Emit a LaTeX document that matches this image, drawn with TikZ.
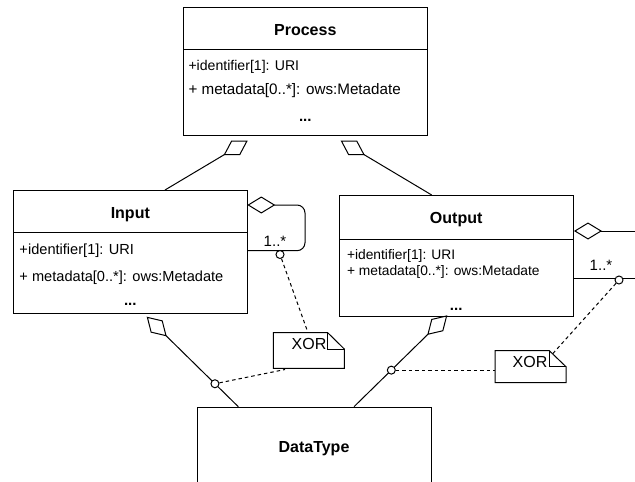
\documentclass[tikz,border=0pt]{standalone}
\usepackage{fontspec}
\setmainfont{Liberation Sans}
\usetikzlibrary{arrows.meta,calc}
\tikzset{
  umlbox/.style={draw, line width=1pt, inner sep=0pt, anchor=north west},
  ttl/.style={font=\fontsize{16}{19}\selectfont\bfseries, anchor=base, inner sep=0pt},
  attr/.style={anchor=base west, inner sep=0pt},
  dots/.style={anchor=base, inner sep=0pt, font=\fontsize{15}{18}\selectfont\bfseries},
  agg/.style={{Diamond[open,length=28pt,width=17pt,line width=1pt]}-},
  circ/.style={draw, circle, fill=white, inner sep=0pt, minimum size=8pt, line width=1pt},
  dsh/.style={line width=1pt, dash pattern=on 3.5pt off 3pt},
  notebox/.style={draw=none, inner sep=0pt, anchor=north west},
  mult/.style={anchor=base, inner sep=0pt, font=\fontsize{15}{18}\selectfont},
  xortxt/.style={anchor=base, inner sep=0pt, font=\fontsize{16}{19}\selectfont},
}
\begin{document}
\begin{tikzpicture}[x=1pt,y=-1pt,line width=1pt]
\useasboundingbox (0,0) rectangle (635,482);

% ---------- Process ----------
\node[umlbox, minimum width=244pt, minimum height=127.7pt] (process) at (183.3,7.3) {};
\draw ($(process.north west)+(0,42)$) -- ($(process.north east)+(0,42)$);
\node[ttl] (ptitle) at (305.3,35.8) {Process};
\node[attr, font=\fontsize{14.1}{17}\selectfont] (pa1) at (188,70.8) {+identifier[1]: URI};
\node[attr, font=\fontsize{15.2}{18}\selectfont] (pa2) at (188,94.8) {+ metadata[0..*]: ows:Metadate};
\node[dots] (pd) at (305.3,121.5) {...};

% ---------- Input ----------
\node[umlbox, minimum width=234pt, minimum height=123.3pt] (input) at (13.3,190) {};
\draw ($(input.north west)+(0,42)$) -- ($(input.north east)+(0,42)$);
\node[ttl] (ititle) at (130.3,218) {Input};
\node[attr, font=\fontsize{14.6}{17}\selectfont] (ia1) at (19,254.3) {+identifier[1]: URI};
\node[attr, font=\fontsize{14.6}{17}\selectfont] (ia2) at (19,281.3) {+ metadata[0..*]: ows:Metadate};
\node[dots] (id) at (130.3,305) {...};

% ---------- Output ----------
\node[umlbox, minimum width=234.3pt, minimum height=120.7pt] (output) at (339,195) {};
\draw ($(output.north west)+(0,44.3)$) -- ($(output.north east)+(0,44.3)$);
\node[ttl] (otitle) at (456.2,223.8) {Output};
\node[attr, font=\fontsize{13.8}{16}\selectfont] (oa1) at (346.5,259.3) {+identifier[1]: URI};
\node[attr, font=\fontsize{13.8}{16}\selectfont] (oa2) at (346.5,275.7) {+ metadata[0..*]: ows:Metadate};
\node[dots] (od) at (456.2,310) {...};

% ---------- DataType ----------
\node[umlbox, minimum width=233.4pt, minimum height=110pt] (datatype) at (197.3,406.7) {};
\node[ttl] (dtitle) at (314,452.4) {DataType};

% ---------- Notes ----------
\node[notebox, minimum width=70pt, minimum height=34.6pt] (note1) at (273.3,332.7) {};
\draw (note1.north west) -- ([xshift=-16.6pt]note1.north east) -- ([yshift=-16.3pt]note1.north east)
      -- (note1.south east) -- (note1.south west) -- cycle;
\draw ([xshift=-16.6pt]note1.north east) -- ([xshift=-16.6pt,yshift=-16.3pt]note1.north east)
      -- ([yshift=-16.3pt]note1.north east);
\node[xortxt] (xor1) at (309,349.8) {XOR};

\node[notebox, minimum width=70pt, minimum height=31pt] (note2) at (495,350.7) {};
\draw (note2.north west) -- ([xshift=-16.7pt]note2.north east) -- ([yshift=-16pt]note2.north east)
      -- (note2.south east) -- (note2.south west) -- cycle;
\draw ([xshift=-16.7pt]note2.north east) -- ([xshift=-16.7pt,yshift=-16pt]note2.north east)
      -- ([yshift=-16pt]note2.north east);
\node[xortxt] (xor2) at (530,367.8) {XOR};

% ---------- anchor coordinates ----------
\coordinate (pL) at (247.7,140.7);
\coordinate (iT) at (165,190);
\coordinate (pR) at (340.7,140.7);
\coordinate (oT) at (431.7,195);
\coordinate (iB) at (146.7,316.7);
\coordinate (dL) at (238.3,406.7);
\coordinate (oB) at (447.3,315.3);
\coordinate (dR) at (354,406.7);
\coordinate (iS1) at (247.3,205);
\coordinate (iS2) at (247.3,250.7);
\coordinate (oS1) at (574,231);
\coordinate (oE1) at (636,231);
\coordinate (oS2) at (573.3,278.3);
\coordinate (oE2) at (636,278.3);

% ---------- aggregations ----------
\draw[agg] (pL) -- (iT);
\draw[agg] (pR) -- (oT);
\draw[agg] (iB) -- (dL);
\draw[agg] (oB) -- (dR);
\draw[agg, rounded corners=8pt] (iS1) -- (305,205) -- (305,250.7) -- (iS2);
\draw[agg] (oS1) -- (oE1);
\draw (oS2) -- (oE2);

% multiplicities
\node[mult] (m1) at (275,246.7) {1..*};
\node[mult] (m2) at (601,270) {1..*};

% ---------- XOR constraint markers ----------
\node[circ] (c1) at (280,254.5) {};
\node[circ] (c3) at (619,280) {};
\path (iB) -- (dL) node[circ, pos=0.745] (c2) {};
\path (oB) -- (dR) node[circ, pos=0.6] (c4) {};

\coordinate (n1top) at (308,332.7);
\coordinate (n1bot) at (285,369.5);
\coordinate (n2fold) at (552,354.5);

\draw[dsh] (c1) -- (n1top);
\draw[dsh] (c2) -- (n1bot);
\draw[dsh] (c3) -- (n2fold);
\draw[dsh] (c4) -- (c4 -| note2.west);
\end{tikzpicture}
\end{document}
